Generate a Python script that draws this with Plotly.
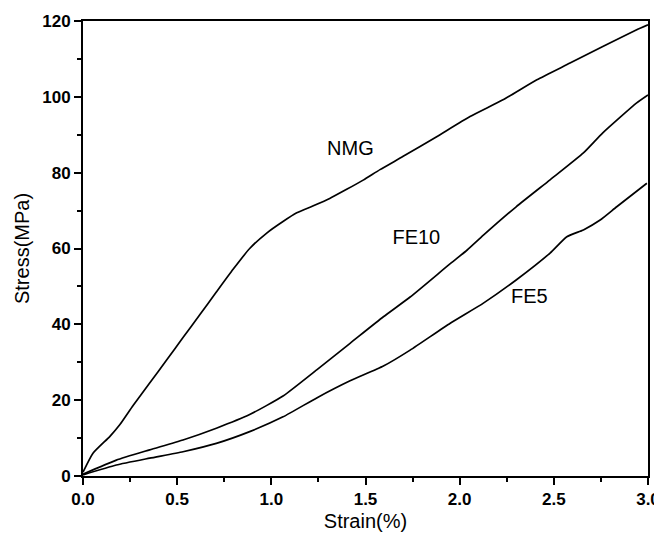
import plotly.graph_objects as go

nmg_x = [0.0, 0.053, 0.142, 0.195, 0.266, 0.354, 0.443, 0.531, 0.62, 0.708, 0.797, 0.885,
         0.974, 1.062, 1.135, 1.22, 1.31, 1.40, 1.49, 1.577, 1.70, 1.878, 2.055, 2.23,
         2.41, 2.586, 2.76, 2.94, 3.0]
nmg_y = [1.0, 6.0, 10.4, 13.5, 18.6, 24.5, 30.5, 36.5, 42.5, 48.5, 54.5, 60.0,
         64.0, 67.1, 69.4, 71.2, 73.2, 75.6, 78.1, 80.8, 84.3, 89.5, 94.8, 99.2,
         104.5, 108.9, 113.3, 117.7, 119.0]

fe10_x = [0.0, 0.177, 0.354, 0.531, 0.708, 0.885, 1.062, 1.241, 1.418, 1.595, 1.737,
          1.95, 2.04, 2.126, 2.30, 2.48, 2.657, 2.76, 2.94, 3.0]
fe10_y = [0.5, 4.2, 6.9, 9.5, 12.6, 16.2, 21.1, 28.0, 35.0, 42.0, 47.2,
          56.0, 59.6, 63.5, 71.0, 78.1, 85.2, 90.5, 98.4, 100.5]

fe5_x = [0.0, 0.177, 0.354, 0.531, 0.708, 0.885, 1.062, 1.241, 1.418, 1.595, 1.737,
         1.95, 2.126, 2.30, 2.48, 2.569, 2.657, 2.746, 2.834, 2.994]
fe5_y = [0.3, 2.9, 4.7, 6.4, 8.6, 11.7, 15.6, 20.6, 25.1, 29.0, 33.2,
         40.3, 45.6, 51.7, 58.8, 63.1, 64.9, 67.5, 71.0, 77.2]

labels = ["NMG", "FE10", "FE5"]
label_x = [1.42, 1.77, 2.37]
label_y = [86, 62.5, 47]

FONT = "Liberation Sans, Arial, sans-serif"

fig = go.Figure()
for xs, ys in [(nmg_x, nmg_y), (fe10_x, fe10_y), (fe5_x, fe5_y)]:
    fig.add_trace(go.Scatter(x=xs, y=ys, mode="lines",
                             line=dict(color="black", width=1.7, shape="spline", smoothing=0.5),
                             showlegend=False))

fig.add_trace(go.Scatter(x=label_x, y=label_y, mode="text", text=labels,
                         textfont=dict(family=FONT, size=20, color="black"),
                         showlegend=False))

axis_common = dict(showline=True, linecolor="black", linewidth=2, mirror=True,
                   ticks="outside", ticklen=7, tickwidth=2, tickcolor="black",
                   showgrid=False, zeroline=False, automargin=False,
                   tickfont=dict(family=FONT, size=17, color="black", weight="bold"),
                   title_font=dict(family=FONT, size=20, color="black"))

fig.update_xaxes(range=[0, 3], tickvals=[0, 0.5, 1, 1.5, 2, 2.5, 3],
                 ticktext=["0.0", "0.5", "1.0", "1.5", "2.0", "2.5", "3.0"],
                 minor=dict(dtick=0.25, ticks="outside", ticklen=4, tickwidth=2, tickcolor="black"),
                 title_text="Strain(%)", title_standoff=6, **axis_common)
fig.update_yaxes(range=[0, 120], dtick=20,
                 minor=dict(dtick=10, ticks="outside", ticklen=4, tickwidth=2, tickcolor="black"),
                 title_text="Stress(MPa)", title_standoff=7, **axis_common)

# page body has an 8px default margin, so the figure is sized to fit the window
fig.update_layout(width=654, height=530, margin=dict(l=75, r=14, t=13, b=62),
                  plot_bgcolor="white", paper_bgcolor="white")

fig.write_html("out.html")
